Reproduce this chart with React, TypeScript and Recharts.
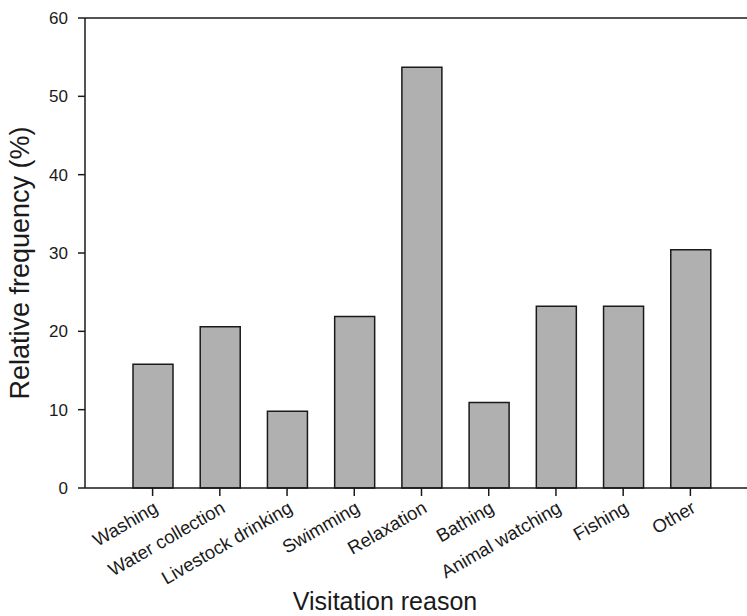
import React from 'react';
import { BarChart, Bar, XAxis, YAxis, ReferenceLine, Label } from 'recharts';

// Visitation reasons and relative frequency (%)
const reasons = [
  'Washing',
  'Water collection',
  'Livestock drinking',
  'Swimming',
  'Relaxation',
  'Bathing',
  'Animal watching',
  'Fishing',
  'Other',
];
const frequency = [15.8, 20.6, 9.8, 21.9, 53.7, 10.9, 23.2, 23.2, 30.4];
const yTicks = [0, 10, 20, 30, 40, 50, 60];

const data = reasons.map((name, i) => ({ name, value: frequency[i] }));

const FONT = '"Liberation Sans", Arial, sans-serif';
const INK = '#1a1a1a';

export default function App() {
  return (
    <div style={{ width: 747, height: 616, fontFamily: FONT }}>
      <style>{`body { margin: 0; }`}</style>
      <BarChart
        width={747}
        height={616}
        data={data}
        margin={{ top: 18, right: 0, bottom: 0, left: 0 }}
        barCategoryGap={0}
      >
        <XAxis
          dataKey="name"
          height={128}
          padding={{ left: 34, right: 23 }}
          interval={0}
          angle={-30}
          textAnchor="end"
          tickSize={8}
          tickMargin={4}
          tick={{ fontSize: 18.5, fill: INK, fontFamily: FONT }}
          tickLine={{ stroke: INK, strokeWidth: 1.5 }}
          axisLine={{ stroke: INK, strokeWidth: 1.5 }}
        >
          <Label
            value="Visitation reason"
            position="insideBottom"
            offset={6}
            dx={-31}
            style={{ fontSize: 25, fill: INK, fontFamily: FONT }}
          />
        </XAxis>
        <YAxis
          width={85}
          domain={[0, 60]}
          ticks={yTicks}
          tickSize={7}
          tickMargin={10}
          tick={{ fontSize: 17, fill: INK, fontFamily: FONT }}
          tickLine={{ stroke: INK, strokeWidth: 1.5 }}
          axisLine={{ stroke: INK, strokeWidth: 1.5 }}
        >
          <Label
            value="Relative frequency (%)"
            angle={-90}
            position="insideLeft"
            offset={19}
            dy={10}
            style={{ fontSize: 27, fill: INK, fontFamily: FONT, textAnchor: 'middle' }}
          />
        </YAxis>
        <ReferenceLine y={60} stroke={INK} strokeWidth={1.5} />
        <Bar
          dataKey="value"
          barSize={40}
          fill="#b0b0b0"
          stroke={INK}
          strokeWidth={1.5}
          isAnimationActive={false}
        />
      </BarChart>
    </div>
  );
}
